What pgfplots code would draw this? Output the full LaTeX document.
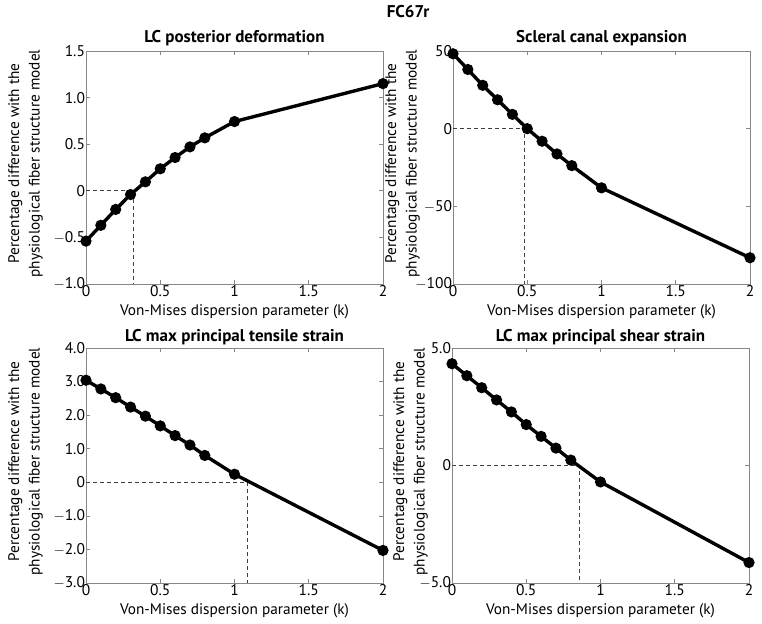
\documentclass[border=0pt]{standalone}
\usepackage{pgfplots}
\pgfplotsset{compat=1.18}
\usepackage{fontspec}
\setmainfont{PT Sans}
\definecolor{axgray}{RGB}{135,135,135}
\pgfplotsset{
  panel/.style={
    scale only axis, width=297pt, height=233pt, anchor=south west,
    xmin=0, xmax=2, xtick={0,0.5,1,1.5,2},
    xticklabels={0,0.5,1,1.5,2},
    axis line style={axgray, line width=0.8pt},
    tick style={axgray, line width=0.6pt},
    tick align=inside, major tick length=4pt,
    xtick pos=both, ytick pos=both,
    ticklabel style={font=\fontsize{15.5}{15.5}\selectfont, black},
    xticklabel style={yshift=2pt},
    yticklabel style={xshift=2.5pt},
    label style={font=\fontsize{15.3}{20.5}\selectfont},
    xlabel={Von-Mises dispersion parameter (k)},
    xlabel style={at={(rel axis cs:0.5,0)}, anchor=center, yshift=-28pt},
    ylabel={Percentage difference with the\\physiological fiber structure model},
    ylabel style={align=center, at={(rel axis cs:0,0.5)}, anchor=center, yshift=60.5pt, xshift=4pt},
    title style={font=\fontsize{17}{17}\selectfont\bfseries, at={(0.5,1)}, anchor=center, yshift=7pt},
    clip=false,
  },
  dataline/.style={black, line width=3.4pt, mark=*, mark size=3.8pt, mark options={solid, fill=black}},
  dashref/.style={black!75, dash pattern=on 4pt off 3pt, line width=0.6pt, mark=none},
}
\begin{document}
\begin{tikzpicture}
\path (0pt,0pt) rectangle (762pt,623pt);
\node[font=\fontsize{17}{17}\selectfont\bfseries] at (408pt,611pt) {FC67r};
% Panel 1
\begin{axis}[panel, at={(86pt,339pt)}, ymin=-1, ymax=1.5,
  ytick={-1,-0.5,0,0.5,1,1.5}, yticklabels={$-$1.0,$-$0.5,0,0.5,1.0,1.5},
  title={LC posterior deformation}]
\addplot[dashref] coordinates {(0,0) (0.32,0) (0.32,-1)};
\addplot[dataline] coordinates {(0,-0.54) (0.1,-0.37) (0.2,-0.20) (0.3,-0.04) (0.4,0.096) (0.5,0.236) (0.6,0.357) (0.7,0.471) (0.8,0.568) (1.0,0.743) (2.0,1.15)};
\end{axis}
% Panel 2
\begin{axis}[panel, at={(453pt,339pt)}, ymin=-100, ymax=50,
  ytick={-100,-50,0,50}, yticklabels={$-$100,$-$50,0,50},
  ylabel style={yshift=-10pt},
  title={Scleral canal expansion}]
\addplot[dashref] coordinates {(0,0) (0.48,0) (0.48,-100)};
\addplot[dataline] coordinates {(0,48.2) (0.1,38.1) (0.2,27.9) (0.3,18.6) (0.4,9.2) (0.5,0) (0.6,-8.1) (0.7,-16.3) (0.8,-23.8) (1.0,-38.1) (2.0,-83.1)};
\end{axis}
% Panel 3
\begin{axis}[panel, at={(86pt,40pt)}, height=235pt, ymin=-3, ymax=4,
  ytick={-3,-2,-1,0,1,2,3,4}, yticklabels={$-$3.0,$-$2.0,$-$1.0,0,1.0,2.0,3.0,4.0},
  title={LC max principal tensile strain}, title style={yshift=-2pt}]
\addplot[dashref] coordinates {(0,0) (1.085,0) (1.085,-3)};
\addplot[dataline] coordinates {(0,3.04) (0.1,2.78) (0.2,2.52) (0.3,2.24) (0.4,1.97) (0.5,1.68) (0.6,1.39) (0.7,1.11) (0.8,0.80) (1.0,0.24) (2.0,-2.03)};
\end{axis}
% Panel 4
\begin{axis}[panel, at={(452pt,40pt)}, height=235pt, ymin=-5, ymax=5,
  ytick={-5,0,5}, yticklabels={$-$5.0,0,5.0},
  ylabel style={yshift=-19pt},
  title={LC max principal shear strain}, title style={yshift=-2pt}]
\addplot[dashref] coordinates {(0,0) (0.858,0) (0.858,-5)};
\addplot[dataline] coordinates {(0,4.33) (0.1,3.82) (0.2,3.31) (0.3,2.79) (0.4,2.28) (0.5,1.74) (0.6,1.24) (0.7,0.74) (0.8,0.23) (1.0,-0.70) (2.0,-4.13)};
\end{axis}
\end{tikzpicture}
\end{document}
